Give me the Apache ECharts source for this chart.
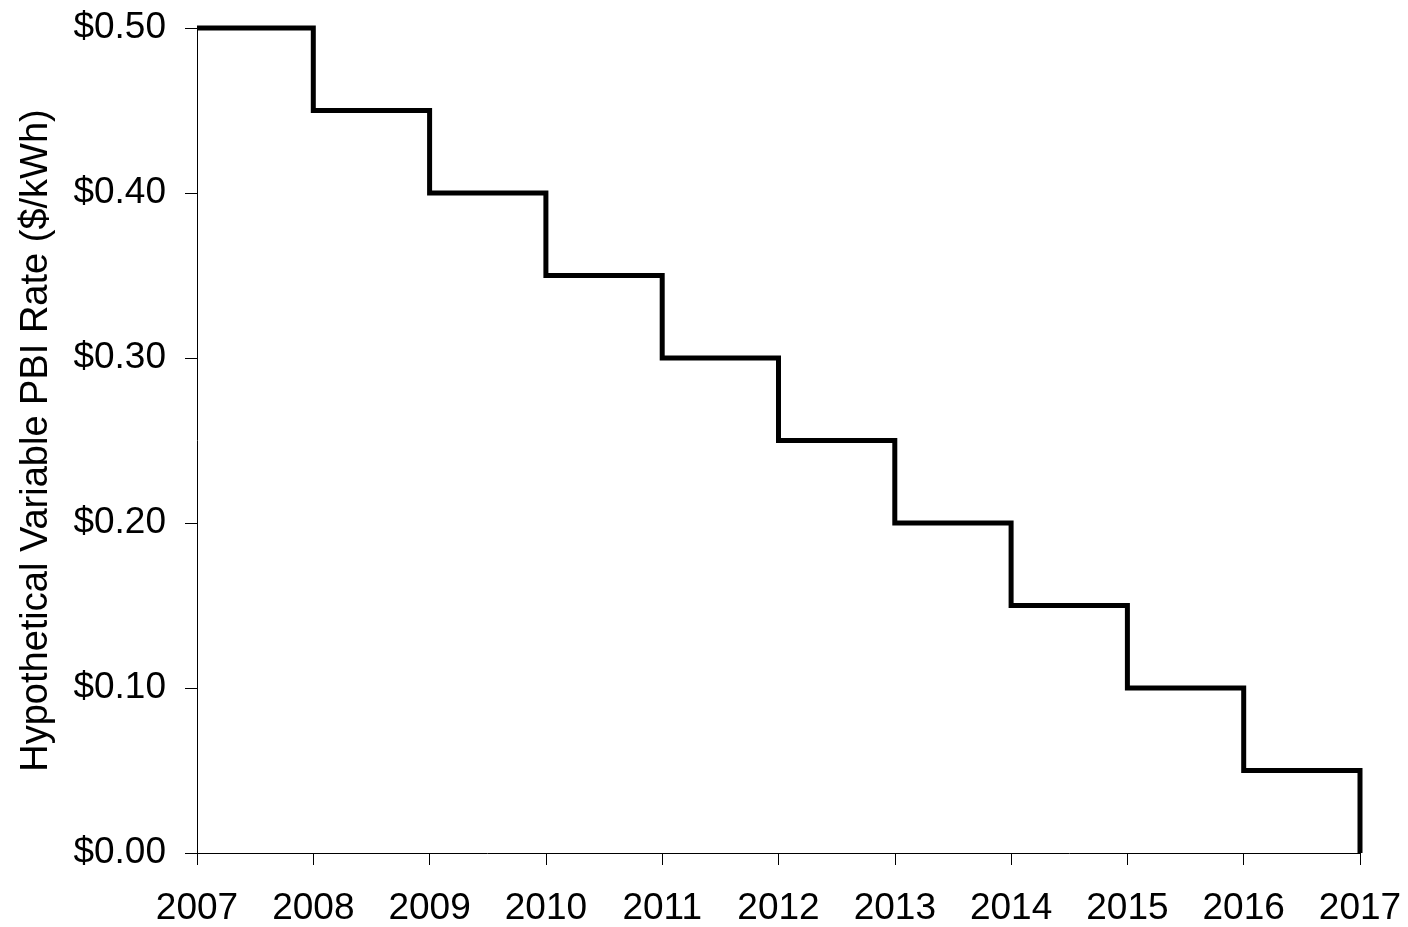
<!DOCTYPE html>
<html>
<head>
<meta charset="utf-8">
<script src="https://cdn.jsdelivr.net/npm/echarts@6/dist/echarts.min.js"></script>
<style>
html,body{margin:0;padding:0;background:#fff;}
#chart{width:1408px;height:927px;}
</style>
</head>
<body>
<div id="chart"></div>
<script>
const years = [2007, 2008, 2009, 2010, 2011, 2012, 2013, 2014, 2015, 2016, 2017];
const rates = [0.50, 0.45, 0.40, 0.35, 0.30, 0.25, 0.20, 0.15, 0.10, 0.05, 0.00];
const yAxisTitle = 'Hypothetical Variable PBI Rate ($/kWh)';

const chart = echarts.init(document.getElementById('chart'));
const font = '"Liberation Sans", Arial, sans-serif';
chart.setOption({
  animation: false,
  backgroundColor: '#fff',
  grid: { left: 197, right: 48, top: 28, bottom: 74, containLabel: false },
  xAxis: {
    type: 'value',
    min: 2007, max: 2017, interval: 1,
    axisLine: { show: true, lineStyle: { color: '#000', width: 1 } },
    axisTick: { show: true, length: 12, lineStyle: { color: '#000', width: 1 } },
    axisLabel: { color: '#000', fontSize: 37, fontFamily: font, margin: 37,
      formatter: v => String(v) },
    splitLine: { show: false }
  },
  yAxis: {
    type: 'value',
    min: 0, max: 0.5, interval: 0.1,
    name: yAxisTitle,
    nameLocation: 'middle',
    nameGap: 141,
    nameTextStyle: { color: '#000', fontSize: 38, fontFamily: font },
    axisLine: { show: true, onZero: false, lineStyle: { color: '#000', width: 1 } },
    axisTick: { show: true, length: 12, lineStyle: { color: '#000', width: 1 } },
    axisLabel: { color: '#000', fontSize: 37, fontFamily: font, margin: 31,
      formatter: v => '$' + v.toFixed(2) },
    splitLine: { show: false }
  },
  series: [{
    type: 'line',
    step: 'end',
    data: years.map((y, i) => [y, rates[i]]),
    showSymbol: false,
    symbol: 'none',
    lineStyle: { color: '#000', width: 5, join: 'miter' },
    clip: false
  }]
});
</script>
</body>
</html>
